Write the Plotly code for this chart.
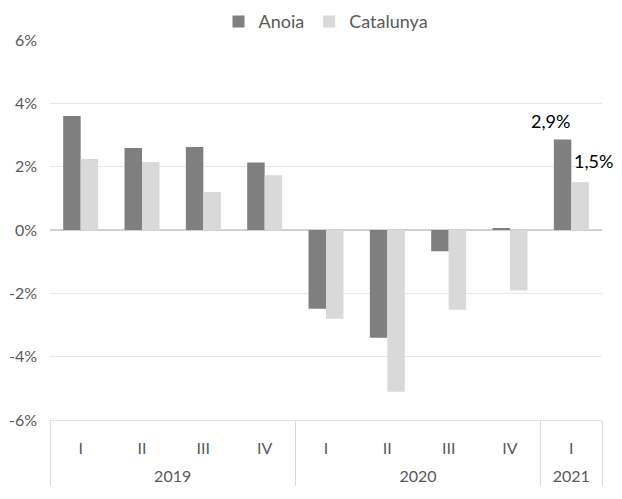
import plotly.graph_objects as go

years = ["2019"] * 4 + ["2020"] * 4 + ["2021"]
quarters = ["I", "II", "III", "IV", "I", "II", "III", "IV", "I"]

anoia = [3.60, 2.59, 2.62, 2.13, -2.49, -3.40, -0.67, 0.04, 2.86]
catalunya = [2.24, 2.15, 1.20, 1.73, -2.80, -5.11, -2.52, -1.91, 1.51]

ytick_vals = [-6, -4, -2, 0, 2, 4, 6]
ytick_text = ["-6%", "-4%", "-2%", "0%", "2%", "4%", "6%"]

font_family = "Lato, Open Sans, sans-serif"

# extra blank line under the quarter labels pushes the year row down
xcats = [years, [q + "<br> " for q in quarters]]

fig = go.Figure()
fig.add_trace(go.Bar(x=xcats, y=anoia, name="Anoia",
                     marker=dict(color="#7f7f7f", line=dict(width=0))))
fig.add_trace(go.Bar(x=xcats, y=catalunya, name="Catalunya",
                     marker=dict(color="#d9d9d9", line=dict(width=0))))

# labels for the last quarter
last = len(anoia) - 1
fig.add_annotation(x=last, y=anoia[last], text=f"{anoia[last]:.1f}".replace(".", ",") + "%",
                   showarrow=False, xshift=-21, yshift=18,
                   font=dict(size=18, color="#000000", family=font_family))
fig.add_annotation(x=last, y=catalunya[last], text=f"{catalunya[last]:.1f}".replace(".", ",") + "%",
                   showarrow=False, xshift=22, yshift=21,
                   font=dict(size=18, color="#000000", family=font_family))

# page body has an 8px margin, so the figure is 8px smaller than the window
fig.update_layout(
    width=614, height=491,
    margin=dict(l=42, r=20, t=32, b=79, autoexpand=False),
    paper_bgcolor="white", plot_bgcolor="white",
    barmode="group", bargap=0.43, bargroupgap=0,
    font=dict(family=font_family, size=16, color="#595959"),
    legend=dict(orientation="h", x=0.5, xanchor="center", yref="container",
                y=0.972, yanchor="middle",
                font=dict(size=18, color="#595959"), itemwidth=30),
    showlegend=True,
)
fig.update_yaxes(range=[-6, 6], tickvals=ytick_vals, ticktext=ytick_text, automargin=False,
                 showgrid=True, gridcolor="#e8e8e8", gridwidth=1,
                 zeroline=True, zerolinecolor="#d0d0d0", zerolinewidth=2,
                 showline=False, ticks="", ticklabelstandoff=12,
                 tickfont=dict(size=16, color="#595959"))
fig.update_xaxes(range=[-0.5, len(quarters) - 0.5],
                 showline=True, linecolor="#e0e0e0", linewidth=1, automargin=False,
                 showdividers=True, dividercolor="#d9d9d9", dividerwidth=1,
                 ticks="", ticklabelstandoff=14, tickfont=dict(size=16, color="#595959"))

fig.write_html("out.html")
